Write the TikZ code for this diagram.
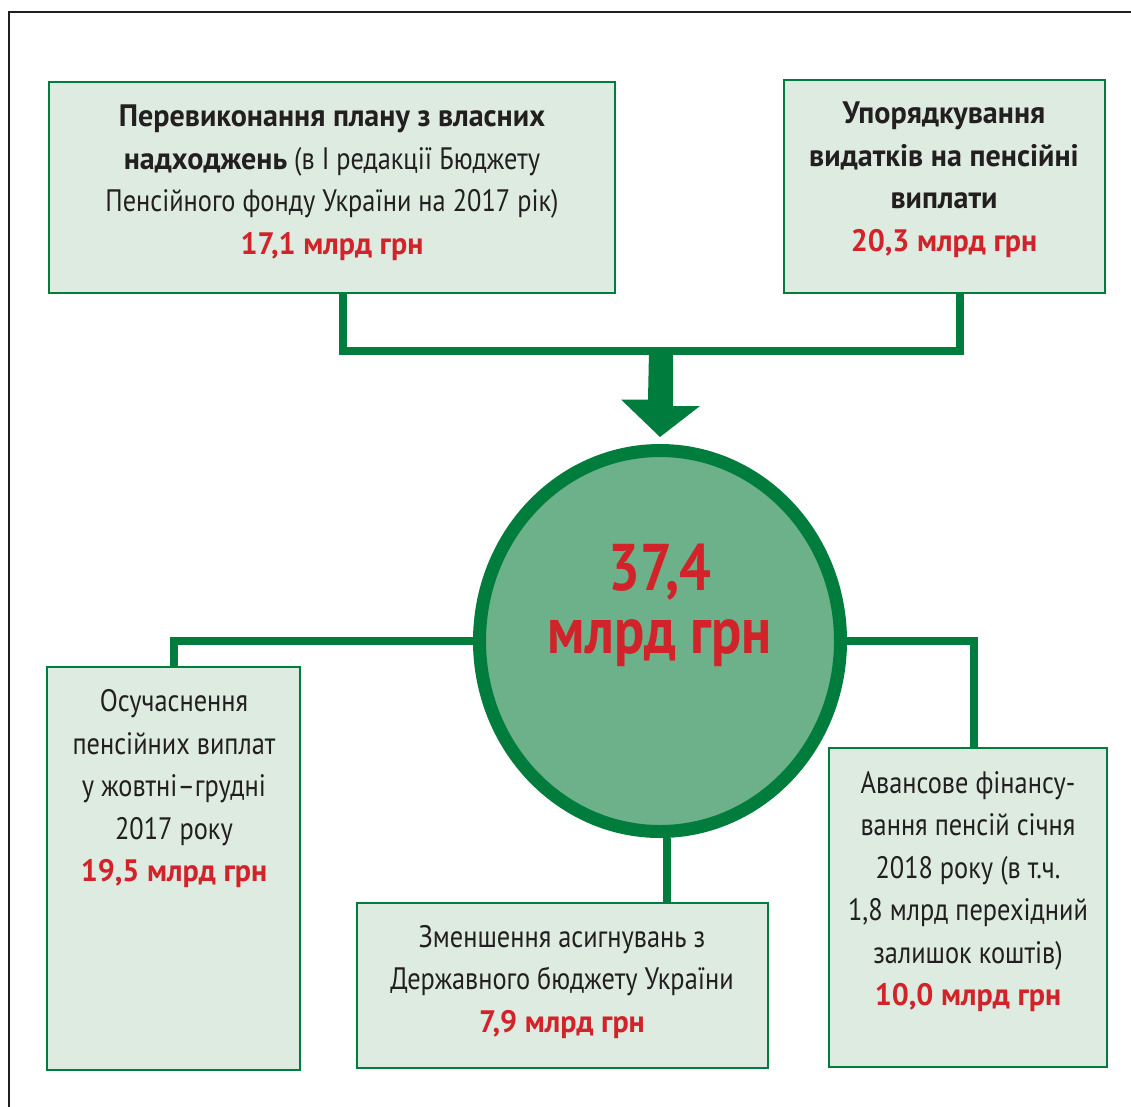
\documentclass[tikz,border=0pt]{standalone}
\usepackage{fontspec}
\setmainfont{PT Sans}[FakeStretch=0.85, BoldFeatures={FakeStretch=0.97}]
\newfontfamily\bignum{PT Sans}[FakeStretch=0.85]
\usetikzlibrary{shapes.geometric}
\definecolor{gr}{HTML}{007C3D}
\definecolor{boxfill}{HTML}{DDEBE0}
\definecolor{circfill}{HTML}{6CB18A}
\definecolor{rd}{HTML}{D2232A}
\definecolor{tx}{HTML}{231F20}
\newcommand\redamt[1]{{\bfseries\color{rd}#1}}
\begin{document}
\begin{tikzpicture}[x=1pt,y=-1pt,
  gbox/.style={draw=gr, fill=boxfill, line width=2.5pt, inner sep=0pt, outer sep=0pt},
  txt/.style={align=center, text=tx, inner sep=0pt, font=\fontsize{31}{42.5}\selectfont},
  conn/.style={draw=gr, line width=8pt}]
\useasboundingbox (0,0) rectangle (1131,1106);
\fill[white] (0,0) rectangle (1131,1106);
% frame
\draw[tx, line width=2.5pt] (9,1130) -- (9,12) -- (1150,12);
% boxes
\node[gbox, minimum width=566pt, minimum height=211pt] (tl) at (332,187.5) {};
\node[gbox, minimum width=321pt, minimum height=213pt] (tr) at (944.5,186.5) {};
\node[gbox, minimum width=253pt, minimum height=403pt] (lb) at (173.5,868.5) {};
\node[gbox, minimum width=278pt, minimum height=319pt] (rb) at (968,907.5) {};
\node[gbox, minimum width=411pt, minimum height=165pt] (bb) at (562.5,985.5) {};
% circle
\node[ellipse, draw=gr, fill=circfill, line width=13pt, inner sep=0pt, minimum width=361pt, minimum height=381pt] (c) at (660,641) {};
% connectors from circle
\draw[conn] (c.west) -| (lb.north);
\draw[conn] (c.east) -| ([xshift=6pt]rb.north);
\draw[conn] ([xshift=7pt]c.south) -- ([xshift=7pt]c.south |- bb.north);
% top connectors
\draw[conn] ([xshift=11pt]tl.south) -- ++(0,58) coordinate (jl) -| ([xshift=15.5pt]tr.south);
\coordinate (j) at (661,351);
\coordinate (t) at ([yshift=7pt]c.north);
\fill[gr] (j) ++(-12,0) -- ++(24,0) -- ++(0,55) -- ++(27,0) -- (t) -- ++(-39,-37.5) -- ++(27,0) -- cycle;
% texts
\node[txt] (tlt) at (332,182.5) {{\bfseries Перевиконання плану з власних}\\ {\bfseries надходжень} (в І редакції Бюджету\\ Пенсійного фонду України на 2017 рік)\\ \redamt{17,1 млрд грн}};
\node[txt, font=\fontsize{31}{42.5}\selectfont\bfseries] (trt) at (944,179.5) {Упорядкування\\ видатків на пенсійні\\ виплати\\ \redamt{20,3 млрд грн}};
\node[txt] (lbt) at (174,789) {Осучаснення\\ пенсійних виплат\\ у жовтні–грудні\\ 2017 року\\ \redamt{19,5 млрд грн}};
\node[txt] (rbt) at (968,891.5) {Авансове фінансу-\\ вання пенсій січня\\ 2018 року (в т.ч.\\ 1,8 млрд перехідний\\ залишок коштів)\\ \redamt{10,0 млрд грн}};
\node[txt] (bbt) at (562,982) {Зменшення асигнувань з\\ Державного бюджету України\\ \redamt{7,9 млрд грн}};
\node[txt, text=rd, font=\fontsize{66}{63}\selectfont\bignum\bfseries] (ct) at (660,605) {37,4\\ млрд грн};
\end{tikzpicture}
\end{document}
